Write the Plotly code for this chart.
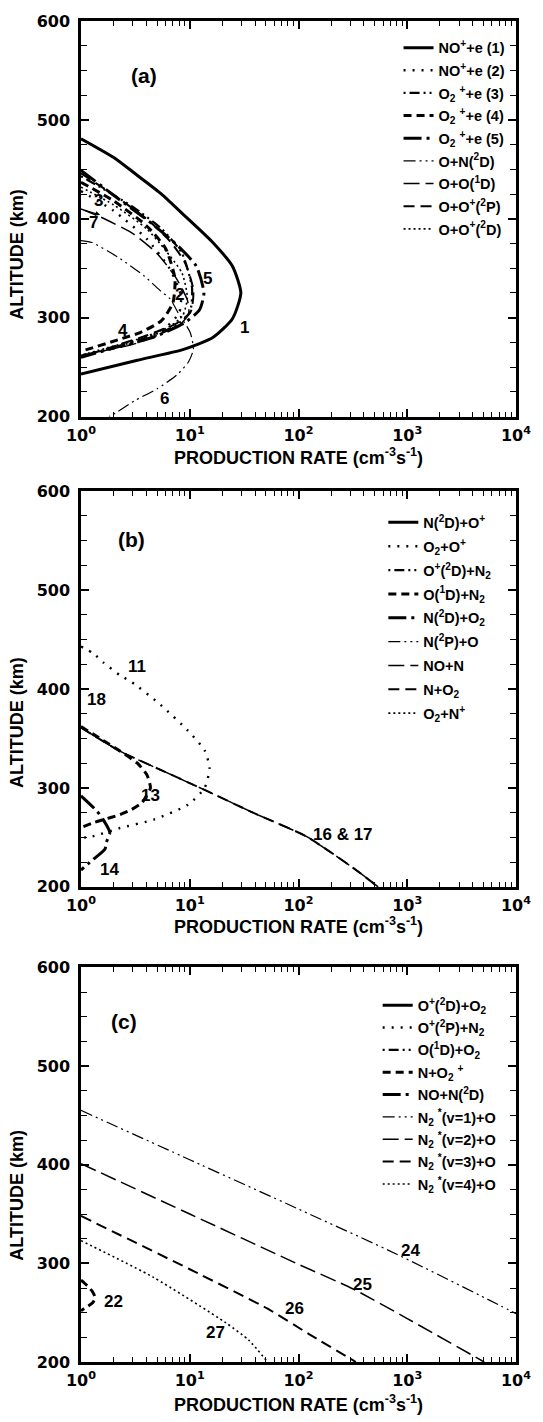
import math
import plotly.graph_objects as go

# ---------------- DATA ----------------
# Panel (a)
a_names = ["NO<sup>+</sup>+e (1)", "NO<sup>+</sup>+e (2)", "O<sub>2</sub> <sup>+</sup>+e (3)",
           "O<sub>2</sub> <sup>+</sup>+e (4)", "O<sub>2</sub> <sup>+</sup>+e (5)", "O+N(<sup>2</sup>D)",
           "O+O(<sup>1</sup>D)", "O+O<sup>+</sup>(<sup>2</sup>P)", "O+O<sup>+</sup>(<sup>2</sup>D)"]
a1_x = [1.0, 2.0, 3.2, 5.5, 9.0, 16.3, 24.7, 29.5, 24.7, 16.3, 8.8, 3.3, 1.0]
a1_alt = [481, 462, 445, 425, 403, 376, 352, 325, 299, 280, 268, 257, 243]
a2_x = [1.0, 2.0, 4.0, 6.5, 8.3, 8.0, 6.0, 3.5, 1.0]
a2_alt = [428, 408, 380, 350, 322, 305, 290, 276, 262]
a3_x = [1.0, 1.5, 3.0, 5.5, 8.5, 10.5, 10.0, 7.5, 4.0, 2.0, 1.0]
a3_alt = [443, 432, 412, 390, 365, 330, 305, 292, 280, 270, 261]
a4_x = [1.0, 2.0, 4.0, 6.0, 7.3, 7.0, 5.5, 3.5, 2.4, 1.0]
a4_alt = [437, 418, 393, 370, 340, 315, 297, 285, 279, 266]
a5_x = [1.0, 2.1, 4.5, 7.9, 11.5, 13.5, 12.3, 9.0, 4.8, 2.1, 1.0]
a5_alt = [449, 422, 395, 372, 352, 325, 308, 295, 281, 270, 260]
a6_x = [1.0, 1.26, 2.2, 3.83, 5.4, 6.6, 7.9, 10.1, 10.8, 9.7, 7.6, 5.0, 3.1, 1.9, 1.8]
a6_alt = [378, 376, 361, 342, 327, 319, 304, 285, 268, 255, 242, 228, 216, 201, 200]
a7_x = [1.0, 1.5, 3.0, 5.0, 7.5, 9.5, 9.8, 8.5, 5.5, 3.0, 1.0]
a7_alt = [410, 402, 385, 365, 340, 318, 305, 295, 284, 273, 262]
a8_x = [1.0, 2.0, 4.0, 6.5, 9.0, 10.8, 10.2, 7.5, 4.0, 2.0, 1.0]
a8_alt = [446, 424, 400, 378, 356, 328, 306, 294, 282, 271, 260]
a9_x = [1.0, 2.0, 4.0, 6.0, 8.5, 9.5, 8.6, 6.5, 3.5, 1.8, 1.0]
a9_alt = [432, 414, 390, 368, 345, 320, 302, 291, 279, 270, 262]

# Panel (b)  (curves that stay below 1 cm^-3 s^-1 have no visible values)
b_names = ["N(<sup>2</sup>D)+O<sup>+</sup>", "O<sub>2</sub>+O<sup>+</sup>", "O<sup>+</sup>(<sup>2</sup>D)+N<sub>2</sub>",
           "O(<sup>1</sup>D)+N<sub>2</sub>", "N(<sup>2</sup>D)+O<sub>2</sub>", "N(<sup>2</sup>P)+O",
           "NO+N", "N+O<sub>2</sub>", "O<sub>2</sub>+N<sup>+</sup>"]
b10_x, b10_alt = [None], [None]
b11_x = [1.0, 1.3, 1.6, 2.28, 2.93, 5.4, 9.6, 13.7, 15.2, 13.7, 9.6, 4.67, 2.28, 1.28, 1.0]
b11_alt = [443, 436, 427, 414, 407, 384, 358, 338, 320, 300, 283, 268, 259.5, 251, 249.5]
b12_x, b12_alt = [None], [None]
b13_x = [1.0, 1.6, 2.3, 3.3, 4.05, 4.35, 4.0, 3.63, 2.9, 2.28, 1.6, 1.28, 1.0]
b13_alt = [362, 348, 337, 325, 313, 300, 292, 285, 278, 273, 268, 264.6, 260]
b14_x = [1.0, 1.39, 1.6, 1.84, 1.71, 1.66, 1.3, 1.0]
b14_alt = [292, 277, 268, 255, 245, 238, 228, 217]
b15_x, b15_alt = [None], [None]
b16_x = [1.0, 2.3, 6.0, 13.7, 40, 118, 320, 540]
b16_alt = [361, 337, 316, 298, 274, 251, 219, 200]
b17_x = [1.0, 2.3, 6.0, 13.7, 40, 118, 320, 540]
b17_alt = [361, 337, 316, 298, 274, 251, 219, 200]
b18_x, b18_alt = [None], [None]

# Panel (c)
c_names = ["O<sup>+</sup>(<sup>2</sup>D)+O<sub>2</sub>", "O<sup>+</sup>(<sup>2</sup>P)+N<sub>2</sub>",
           "O(<sup>1</sup>D)+O<sub>2</sub>", "N+O<sub>2</sub> <sup>+</sup>", "NO+N(<sup>2</sup>D)",
           "N<sub>2</sub> <sup>*</sup>(v=1)+O", "N<sub>2</sub> <sup>*</sup>(v=2)+O",
           "N<sub>2</sub> <sup>*</sup>(v=3)+O", "N<sub>2</sub> <sup>*</sup>(v=4)+O"]
c19_x, c19_alt = [None], [None]
c20_x, c20_alt = [None], [None]
c21_x, c21_alt = [None], [None]
c22_x = [1.0, 1.15, 1.28, 1.35, 1.28, 1.1, 1.0]
c22_alt = [283, 277, 271, 265, 260, 255, 252]
c23_x, c23_alt = [None], [None]
c24_x = [1, 10, 100, 810, 7200, 10000]
c24_alt = [455, 405, 355, 309, 257, 249]
c25_x = [1, 10, 100, 318, 1000, 5100]
c25_alt = [401, 350, 299, 274, 244, 200]
c26_x = [1, 10, 52, 126, 337]
c26_alt = [348, 294, 254, 228, 200]
c27_x = [1, 4.6, 21.3, 35, 52]
c27_alt = [323, 286, 240, 222, 200]

x_tickvals = [1, 10, 100, 1000, 10000]
x_ticktext = ["10<sup>0</sup>", "10<sup>1</sup>", "10<sup>2</sup>", "10<sup>3</sup>", "10<sup>4</sup>"]
y_tickvals = [200, 300, 400, 500, 600]

# curve labels: (text, x value, altitude)
a_labels = [("1", 31.6, 290), ("2", 8.0, 323), ("3", 1.45, 419), ("4", 2.44, 287),
            ("5", 14.7, 340), ("6", 5.8, 218), ("7", 1.31, 396)]
b_labels = [("11", 3.3, 423), ("13", 4.36, 292), ("14", 1.84, 218),
            ("16 & 17", 259, 253), ("18", 1.39, 389)]
c_labels = [("22", 2.0, 261), ("24", 1072, 313), ("25", 389, 279), ("26", 91, 254), ("27", 17.3, 230)]
panel_tags = [("(a)", 3.77, 545), ("(b)", 2.93, 551), ("(c)", 2.49, 545)]

# ---------------- STYLES ----------------
styles = [
    dict(width=3.0, dash="solid"),
    dict(width=2.4, dash="2px,7px"),
    dict(width=2.2, dash="2px,4px,10px,4px,2px,4px"),
    dict(width=3.0, dash="8px,5px"),
    dict(width=3.0, dash="18px,5px,3px,5px"),
    dict(width=1.2, dash="12px,4px,2px,4px,2px,4px"),
    dict(width=1.5, dash="16px,6px"),
    dict(width=2.0, dash="11px,6px"),
    dict(width=1.6, dash="2px,3px"),
]

LEG_FONT = dict(family="Liberation Sans", size=14.5, color="black", weight="bold")
TICK_FONT = dict(family="DejaVu Sans", size=16, color="black", weight="bold")
TITLE_FONT = dict(family="Liberation Sans", size=18, color="black", weight="bold")

fig = go.Figure()

panels = [
    ("x", "y", "legend", a_names, [(a1_x, a1_alt), (a2_x, a2_alt), (a3_x, a3_alt), (a4_x, a4_alt),
                                   (a5_x, a5_alt), (a6_x, a6_alt), (a7_x, a7_alt), (a8_x, a8_alt),
                                   (a9_x, a9_alt)]),
    ("x2", "y2", "legend2", b_names, [(b10_x, b10_alt), (b11_x, b11_alt), (b12_x, b12_alt),
                                      (b13_x, b13_alt), (b14_x, b14_alt), (b15_x, b15_alt),
                                      (b16_x, b16_alt), (b17_x, b17_alt), (b18_x, b18_alt)]),
    ("x3", "y3", "legend3", c_names, [(c19_x, c19_alt), (c20_x, c20_alt), (c21_x, c21_alt),
                                      (c22_x, c22_alt), (c23_x, c23_alt), (c24_x, c24_alt),
                                      (c25_x, c25_alt), (c26_x, c26_alt), (c27_x, c27_alt)]),
]

for pi, (xa, ya, leg, names, curves) in enumerate(panels):
    for ci, ((cx, cy), nm) in enumerate(zip(curves, names)):
        st = styles[ci]
        fig.add_trace(go.Scatter(
            x=cx, y=cy, mode="lines", name=nm, xaxis=xa, yaxis=ya, legend=leg,
            legendgroup=f"{leg}_{ci}",
            line=dict(color="black", width=st["width"], dash=st["dash"], shape="spline", smoothing=0.6),
            showlegend=True, hoverinfo="skip",
        ))

# ---------------- LAYOUT ----------------
domains = [[0.7050, 1.0], [0.3543, 0.6494], [0.0, 0.2943]]
minor_vals = [m * 10 ** d for d in range(4) for m in range(2, 10)]

layout = dict(
    width=543, height=1422,
    margin=dict(l=81, r=19, t=13, b=60),
    paper_bgcolor="white", plot_bgcolor="white",
    showlegend=True,
)
for i, dom in enumerate(domains):
    sfx = "" if i == 0 else str(i + 1)
    layout["xaxis" + sfx] = dict(
        type="log", range=[0, 4], domain=[0, 1], anchor="y" + sfx,
        tickmode="array", tickvals=x_tickvals, ticktext=x_ticktext,
        ticks="inside", ticklen=8, tickwidth=1.5, tickcolor="black",
        showline=True, linewidth=2.5, linecolor="black", mirror="ticks",
        showgrid=False, zeroline=False, tickfont=TICK_FONT, ticklabelstandoff=2,
        minor=dict(tickmode="array", tickvals=minor_vals, ticks="inside", ticklen=5,
                   tickwidth=1.2, tickcolor="black", showgrid=False),
    )
    layout["yaxis" + sfx] = dict(
        range=[200, 600], domain=dom, anchor="x" + sfx,
        tickmode="array", tickvals=y_tickvals,
        ticks="inside", ticklen=8, tickwidth=1.5, tickcolor="black",
        showline=True, linewidth=2.5, linecolor="black", mirror="ticks",
        showgrid=False, zeroline=False, tickfont=TICK_FONT, ticklabelstandoff=5,
        minor=dict(dtick=25, ticks="inside", ticklen=6, tickwidth=1.2, tickcolor="black", showgrid=False),
    )

legend_pos = [(0.730, 0.992, 0.8), (0.695, 0.638, 2), (0.682, 0.278, 0.5)]
for i, (lx, ly, gap) in enumerate(legend_pos):
    key = "legend" if i == 0 else f"legend{i + 1}"
    layout[key] = dict(x=lx, y=ly, xanchor="left", yanchor="top", bgcolor="rgba(0,0,0,0)",
                       borderwidth=0, font=LEG_FONT, traceorder="grouped", tracegroupgap=gap,
                       itemclick=False)

fig.update_layout(**layout)

ann = []
LBL_FONT = dict(family="Liberation Sans", size=17, color="black", weight="bold")
x_title_shift = [-40, -39, -41]
y_title_shift = [-36, -34, -31]
for i, labels in enumerate([a_labels, b_labels, c_labels]):
    sfx = "" if i == 0 else str(i + 1)
    for txt, lx, ly in labels:
        ann.append(dict(text=txt, x=math.log10(lx), y=ly, xref="x" + sfx, yref="y" + sfx,
                        showarrow=False, font=LBL_FONT))
    t, tx, ty = panel_tags[i]
    ann.append(dict(text=t, x=math.log10(tx), y=ty, xref="x" + sfx, yref="y" + sfx, showarrow=False,
                    font=dict(family="Liberation Sans", size=21, color="black", weight="bold")))
    # axis titles
    ann.append(dict(text="PRODUCTION RATE (cm<sup>-3</sup>s<sup>-1</sup>)", xref=f"x{sfx} domain",
                    yref=f"y{sfx} domain", x=0.5, y=0, yshift=x_title_shift[i], xanchor="center",
                    yanchor="middle", showarrow=False, font=TITLE_FONT))
    ann.append(dict(text="ALTITUDE (km)", xref=f"x{sfx} domain", yref=f"y{sfx} domain",
                    x=0, y=0.5, xshift=-64, yshift=y_title_shift[i], xanchor="center", yanchor="middle",
                    textangle=-90, showarrow=False, font=TITLE_FONT))
# small arrow next to label 7
ann.append(dict(text="", x=math.log10(1.5), y=404, ax=math.log10(1.05), ay=409, xref="x", yref="y",
                axref="x", ayref="y", showarrow=True, arrowhead=2, arrowsize=0.8, arrowwidth=1.2,
                arrowcolor="black"))
fig.update_layout(annotations=ann)

fig.write_html("out.html")
